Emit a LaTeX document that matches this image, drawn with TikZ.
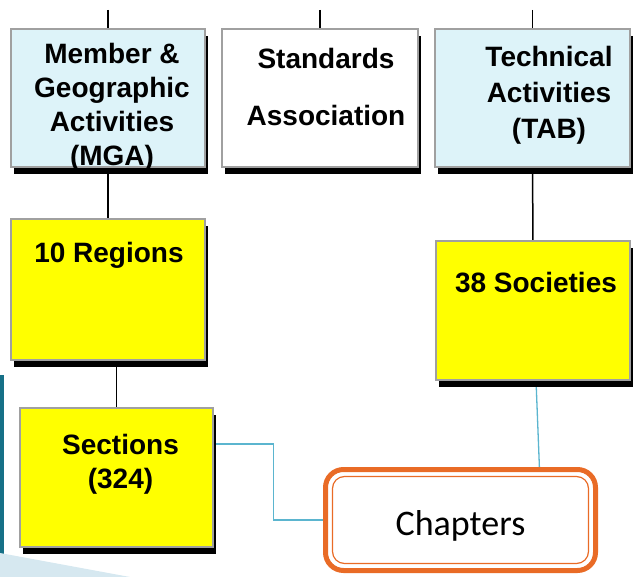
\documentclass[tikz,border=0pt]{standalone}
\usepackage{fontspec}
\setmainfont{Liberation Sans}
\newfontfamily\chapfont{Carlito}
\usetikzlibrary{calc,backgrounds}
\definecolor{mgablue}{RGB}{221,243,249}
\definecolor{boxyellow}{RGB}{255,255,0}
\definecolor{boxgray}{RGB}{160,160,160}
\definecolor{linkcyan}{RGB}{91,181,207}
\definecolor{chaporange}{RGB}{233,107,38}
\definecolor{sideteal}{RGB}{22,112,135}
\definecolor{sidepale}{RGB}{214,232,240}
\tikzset{
  orgbox/.style={draw=boxgray, line width=1.5pt, minimum width=194pt, minimum height=138pt,
    inner sep=0pt, outer sep=0pt},
  bluebox/.style={orgbox, fill=mgablue},
  whitebox/.style={orgbox, fill=white},
  yellowbox/.style={orgbox, fill=boxyellow},
  boxtext/.style={align=center, inner sep=0pt, font=\bfseries\fontsize{28}{34}\selectfont},
  link/.style={line width=1.5pt, black},
  clink/.style={line width=1.3pt, linkcyan},
  chapbox/.style={draw=chaporange, line width=5pt, rounded corners=18pt, minimum width=270pt,
    minimum height=101pt, outer sep=0pt, text height=36pt, text depth=6pt,
    font=\chapfont\fontsize{36}{40}\selectfont}
}
\begin{document}
\begin{tikzpicture}[x=1pt, y=-1pt]
\useasboundingbox (0,0) rectangle (635,577);
% edge of the slide
\fill[sideteal] (0,375) rectangle (4,555);
\fill[sidepale] (0,553) -- (130,577) -- (0,577) -- cycle;

\node[bluebox] (mga) at (108,98) {};
\node[whitebox, minimum width=196pt] (sa) at (320,98) {};
\node[bluebox, minimum width=195pt] (tab) at (532.5,98) {};
\node[yellowbox, minimum height=141pt] (reg) at (108,289.5) {};
\node[yellowbox, minimum height=139pt] (soc) at (533,310.5) {};
\node[yellowbox, minimum width=193pt, minimum height=139pt] (sec) at (116.5,477.5) {};

\node[boxtext] (mgatxt) at (112,107) {Member \&\\Geographic\\Activities\\(MGA)};
\node[boxtext] (satxt) at (326,87) {Standards\\[23pt]Association};
\node[boxtext, font=\bfseries\fontsize{28}{36}\selectfont] (tabtxt) at (549,95) {Technical\\Activities\\(TAB)};
\node[boxtext, anchor=base] (regtxt) at (109,263) {10 Regions};
\node[boxtext, anchor=base] (soctxt) at (536,293) {38 Societies};
\node[boxtext] (sectxt) at (120.5,464) {Sections\\(324)};

\node[chapbox] (chap) at (460.5,520) {Chapters};
\draw[chaporange, line width=1.2pt, rounded corners=12pt]
  ($(chap.north west)+(7,7)$) rectangle ($(chap.south east)+(-7,-7)$);

\begin{scope}[on background layer]
\coordinate (mgatop) at (108,10);
\coordinate (satop) at (320,10);
\coordinate (tabtop) at (532.5,10);
\draw[link] (mgatop) -- (mga.north);
\draw[link] (satop) -- (sa.north);
\draw[link] (tabtop) -- (tab.north);
\draw[link] (mga.south) -- (reg.north);
\draw[link] (reg.south -| sec.north) -- (sec.north);
\draw[link] (tab.south) -- (soc.north);
\draw[clink] ($(sec.north east)+(0,36)$) -| ($(chap.west)+(-52,0)$) -- (chap.west);
\draw[clink] ($(soc.south)+(3,0)$) -- ($(chap.north)+(79,0)$);
% shadows
\foreach \b in {mga,sa,tab,reg,soc,sec}
  \fill[black] ($(\b.north west)+(3,7)$) rectangle ($(\b.south east)+(3,7)$);
\end{scope}
\end{tikzpicture}
\end{document}
